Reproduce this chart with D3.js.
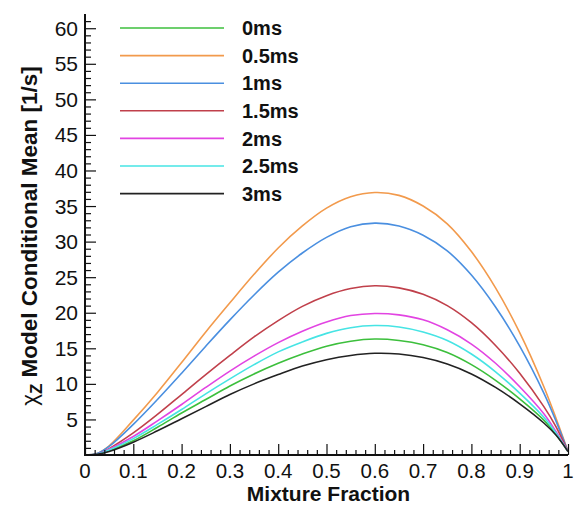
<!DOCTYPE html>
<html>
<head>
<meta charset="utf-8">
<script src="https://cdn.jsdelivr.net/npm/d3@7"></script>
<style>
  html, body { margin: 0; padding: 0; background: #fff; }
  #chart svg { display: block; }
  text { font-family: "Liberation Sans", Arial, sans-serif; fill: #111; }
</style>
</head>
<body>
<div id="chart"></div>
<script>
// Mixture fraction sample points
const xValues = [0, 0.025, 0.05, 0.1, 0.15, 0.2, 0.25, 0.3, 0.35, 0.4, 0.45, 0.5, 0.55, 0.6, 0.65, 0.7, 0.75, 0.8, 0.85, 0.9, 0.95, 0.975, 1];

// Conditional mean, one array per time
const series0ms   = [0, 0.1, 0.6, 2.0, 3.9, 5.9, 7.8, 9.7, 11.4, 12.9, 14.2, 15.3, 16.0, 16.3, 16.1, 15.5, 14.4, 12.7, 10.5, 7.9, 4.9, 2.9, 0.5];
const series05ms  = [0, 0.2, 1.3, 4.9, 8.8, 13.0, 17.3, 21.4, 25.4, 29.1, 32.2, 34.7, 36.3, 36.9, 36.5, 35.0, 32.5, 28.6, 23.5, 17.2, 9.6, 5.2, 0.5];
const series1ms   = [0, 0.2, 1.2, 4.3, 7.8, 11.5, 15.3, 19.0, 22.5, 25.7, 28.4, 30.6, 32.1, 32.6, 32.2, 30.9, 28.7, 25.3, 20.8, 15.3, 8.7, 4.8, 0.5];
const series15ms  = [0, 0.1, 0.9, 3.1, 5.7, 8.5, 11.3, 14.0, 16.6, 18.9, 20.9, 22.4, 23.4, 23.8, 23.5, 22.6, 21.0, 18.6, 15.4, 11.5, 6.8, 4.0, 0.5];
const series2ms   = [0, 0.1, 0.8, 2.6, 4.8, 7.1, 9.5, 11.8, 13.9, 15.8, 17.4, 18.7, 19.6, 19.9, 19.7, 19.0, 17.6, 15.6, 12.9, 9.6, 5.8, 3.3, 0.5];
const series25ms  = [0, 0.1, 0.7, 2.3, 4.3, 6.4, 8.6, 10.7, 12.7, 14.5, 15.9, 17.1, 17.9, 18.2, 18.0, 17.3, 16.1, 14.2, 11.7, 8.7, 5.3, 3.1, 0.5];
const series3ms   = [0, 0.1, 0.5, 1.8, 3.4, 5.1, 6.8, 8.5, 10.0, 11.3, 12.5, 13.4, 14.0, 14.3, 14.2, 13.7, 12.8, 11.4, 9.5, 7.2, 4.5, 2.8, 0.5];

const seriesLabels = ['0ms', '0.5ms', '1ms', '1.5ms', '2ms', '2.5ms', '3ms'];
const seriesValues = [series0ms, series05ms, series1ms, series15ms, series2ms, series25ms, series3ms];
const seriesColors = ['#3cbf3c', '#f29a4c', '#4a8fe0', '#c0404b', '#e244e2', '#46e4e4', '#222222'];

const xTicks = [0, 0.1, 0.2, 0.3, 0.4, 0.5, 0.6, 0.7, 0.8, 0.9, 1];
const yTicks = [5, 10, 15, 20, 25, 30, 35, 40, 45, 50, 55, 60];

function createChart(width, height) {
    d3.select('#chart').selectAll('*').remove();

    const left = 85, right = 568, bottom = 455;
    const yTop = 14;

    const xScale = d3.scaleLinear().domain([0, 1]).range([left, right]);
    const yScale = d3.scaleLinear().domain([0, 62]).range([bottom, yTop]);

    const svg = d3.select('#chart')
        .append('svg')
        .attr('width', width)
        .attr('height', height);

    // curves
    const line = d3.line()
        .x(d => xScale(d[0]))
        .y(d => yScale(d[1]))
        .curve(d3.curveCatmullRom.alpha(0.5));

    const curves = svg.append('g').attr('class', 'curves');
    seriesValues.forEach((vals, i) => {
        curves.append('path')
            .datum(xValues.map((x, j) => [x, vals[j]]))
            .attr('d', line)
            .attr('fill', 'none')
            .attr('stroke', seriesColors[i])
            .attr('stroke-width', 1.6);
    });

    // y axis: ticks point inward
    const yAxis = svg.append('g').attr('transform', `translate(${left},0)`);
    yAxis.call(d3.axisRight(yScale)
        .tickValues(d3.range(1, 62))
        .tickSize(6)
        .tickFormat(''));
    yAxis.selectAll('.tick line')
        .filter(d => d % 5 === 0)
        .attr('x2', 11);
    yAxis.select('.domain').remove();
    yAxis.selectAll('.tick line').attr('stroke', '#111').attr('stroke-width', 1.2);

    svg.append('g')
        .selectAll('text')
        .data(yTicks)
        .join('text')
        .attr('x', left - 7)
        .attr('y', d => yScale(d))
        .attr('dy', '0.36em')
        .attr('text-anchor', 'end')
        .style('font-size', '21px')
        .text(d => d);

    // x axis: ticks point up
    const xAxis = svg.append('g').attr('transform', `translate(0,${bottom})`);
    xAxis.call(d3.axisTop(xScale)
        .tickValues(d3.range(0, 51).map(i => i / 50))
        .tickSize(5)
        .tickFormat(''));
    xAxis.selectAll('.tick line')
        .filter(d => Math.abs(d * 10 - Math.round(d * 10)) < 1e-6)
        .attr('y2', -11);
    xAxis.select('.domain').remove();
    xAxis.selectAll('.tick line').attr('stroke', '#111').attr('stroke-width', 1.2);

    svg.append('g')
        .selectAll('text')
        .data(xTicks)
        .join('text')
        .attr('x', d => xScale(d))
        .attr('y', bottom + 23)
        .attr('text-anchor', 'middle')
        .style('font-size', '20.5px')
        .text(d => d);

    // axis lines
    svg.append('line')
        .attr('x1', left).attr('x2', left)
        .attr('y1', yTop).attr('y2', bottom + 1)
        .attr('stroke', '#111').attr('stroke-width', 2);
    svg.append('line')
        .attr('x1', left - 1).attr('x2', right)
        .attr('y1', bottom).attr('y2', bottom)
        .attr('stroke', '#111').attr('stroke-width', 2);

    // axis titles
    svg.append('text')
        .attr('x', (left + right) / 2 + 2)
        .attr('y', 501)
        .attr('text-anchor', 'middle')
        .style('font-size', '21px')
        .style('font-weight', 'bold')
        .text('Mixture Fraction');

    const yTitle = svg.append('text')
        .attr('transform', `translate(37,236) rotate(-90)`)
        .attr('text-anchor', 'middle')
        .style('font-size', '22.5px')
        .style('font-weight', 'bold');
    yTitle.append('tspan').style('font-weight', 'normal').text('χ');
    yTitle.append('tspan').attr('dy', 5).style('font-size', '17px').text('Z');
    yTitle.append('tspan').attr('dy', -5).text(' Model Conditional Mean [1/s]');

    // legend
    const legend = svg.append('g');
    seriesLabels.forEach((label, i) => {
        const ly = 28 + i * 27.6;
        legend.append('line')
            .attr('x1', 120).attr('x2', 224)
            .attr('y1', ly).attr('y2', ly)
            .attr('stroke', seriesColors[i])
            .attr('stroke-width', 1.6);
        legend.append('text')
            .attr('x', 242)
            .attr('y', ly)
            .attr('dy', '0.36em')
            .style('font-size', '20px')
            .style('font-weight', 'bold')
            .text(label);
    });
}

document.addEventListener('DOMContentLoaded', () => {
    createChart(574, 506);
});
</script>
</body>
</html>
